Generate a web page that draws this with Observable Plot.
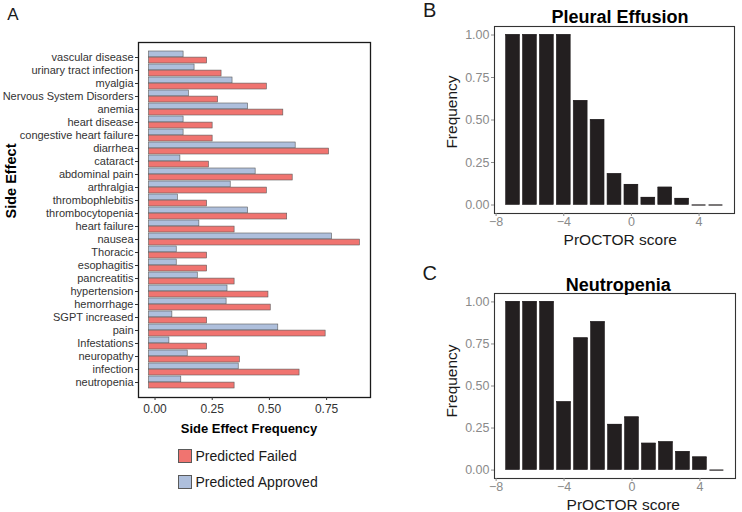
<!DOCTYPE html>
<html><head><meta charset="utf-8">
<script src="https://cdn.jsdelivr.net/npm/d3@7"></script>
<script src="https://cdn.jsdelivr.net/npm/@observablehq/plot@0.6"></script>
<style>
body{margin:0;background:#fff;font-family:"Liberation Sans",Arial,Helvetica,sans-serif;}
#root{position:relative;width:742px;height:512px;overflow:hidden;background:#fff;}
.abs{position:absolute;white-space:nowrap;line-height:1;}
.panel{position:absolute;}
.panel svg{display:block;}
</style></head><body><div id="root"></div>
<script>
// ---------- DATA ----------
const sideEffects = ["vascular disease","urinary tract infection","myalgia","Nervous System Disorders","anemia","heart disease","congestive heart failure","diarrhea","cataract","abdominal pain","arthralgia","thrombophlebitis","thrombocytopenia","heart failure","nausea","Thoracic","esophagitis","pancreatitis","hypertension","hemorrhage","SGPT increased","pain","Infestations","neuropathy","infection","neutropenia"];
const approvedFreq = [0.151,0.199,0.365,0.174,0.433,0.151,0.151,0.641,0.137,0.466,0.357,0.126,0.433,0.220,0.800,0.121,0.121,0.213,0.343,0.339,0.102,0.565,0.089,0.169,0.392,0.141];
const failedFreq   = [0.254,0.317,0.515,0.302,0.587,0.278,0.278,0.787,0.262,0.628,0.515,0.254,0.604,0.374,0.922,0.254,0.254,0.374,0.522,0.532,0.254,0.772,0.254,0.397,0.658,0.374];
const freqTicksA = [0, 0.25, 0.5, 0.75];

const scores = [-7,-6,-5,-4,-3,-2,-1,0,1,2,3,4,5];
const pleuralFreq     = [1,1,1,1,0.612,0.500,0.182,0.119,0.043,0.103,0.037,0,0];
const neutropeniaFreq = [1,1,1,0.404,0.784,0.880,0.270,0.314,0.158,0.166,0.108,0.076,0];
const freqTicks = [0, 0.25, 0.5, 0.75, 1];
const scoreTicks = [-8, -4, 0, 4];

const seriesNames = ["Predicted Failed", "Predicted Approved"];
const seriesColors = ["#F07470", "#AEBFDC"];

// ---------- LAYOUT ----------
const FONT = "'Liberation Sans', Arial, Helvetica, sans-serif";
const root = document.getElementById("root");
function place(node, left, top) {
  const d = document.createElement("div");
  d.className = "panel"; d.style.left = left + "px"; d.style.top = top + "px";
  d.appendChild(node); root.appendChild(d);
}
function label(text, cx, cy, o = {}) {
  const d = document.createElement("div");
  d.className = "abs";
  d.textContent = text;
  d.style.left = cx + "px"; d.style.top = cy + "px";
  d.style.fontSize = (o.size || 14) + "px";
  d.style.fontWeight = o.weight || "normal";
  d.style.color = o.color || "#1a1a1a";
  d.style.transform = "translate(-50%,-50%)" + (o.rotate ? " rotate(-90deg)" : "");
  root.appendChild(d);
}

// ---------- PANEL A ----------
const rowsA = sideEffects.map((s, i) => ({effect: s, approved: approvedFreq[i], failed: failedFreq[i]}));
const AH = 420, AmT = 42, AmB = 23, padIn = 0.1, padOut = 0.15;
const stepA = (AH - AmT - AmB) / (sideEffects.length - padIn + 2 * padOut);
const halfA = stepA * (1 - padIn) / 2;
const xMaxA = d3.max(failedFreq.concat(approvedFreq));
const plotA = Plot.plot({
  width: 380, height: AH, marginTop: AmT, marginBottom: AmB, marginLeft: 138, marginRight: 10,
  style: {fontFamily: FONT, fontSize: "11px", background: "transparent", color: "#333"},
  x: {domain: [-0.05 * xMaxA, 1.05 * xMaxA]},
  y: {type: "band", domain: sideEffects, paddingInner: padIn, paddingOuter: padOut, align: 0.5},
  marks: [
    Plot.barX(rowsA, {y: "effect", x: "approved", fill: seriesColors[1], stroke: "#5a5a5a", strokeWidth: 0.6, insetBottom: halfA}),
    Plot.barX(rowsA, {y: "effect", x: "failed", fill: seriesColors[0], stroke: "#5a5a5a", strokeWidth: 0.6, insetTop: halfA}),
    Plot.frame({stroke: "#1a1a1a", strokeWidth: 1.3}),
    Plot.axisX({ticks: freqTicksA, tickFormat: d3.format(".2f"), tickSize: 3, tickPadding: 4, fontSize: 12, dx: 6, label: null, color: "#333"}),
    Plot.axisY({tickSize: 3, tickPadding: 2, fontSize: 11, label: null, color: "#333"})
  ]
});
place(plotA, 0, 0);

// ---------- PANELS B, C ----------
function histPanel(vals, H, mT, mB, mR) {
  const rows = scores.map((s, i) => ({score: s, freq: vals[i]}));
  return Plot.plot({
    width: 322, height: H, marginTop: mT, marginBottom: mB, marginLeft: 74, marginRight: mR,
    style: {fontFamily: FONT, fontSize: "12.5px", background: "transparent"},
    x: {domain: [-8.095, 6.095]},
    y: {domain: [-0.05, 1.05]},
    marks: [
      Plot.rectY(rows, {x1: d => d.score - 0.41, x2: d => d.score + 0.41, y1: 0, y2: "freq", fill: "#231f20", stroke: "#231f20", strokeWidth: 0.6}),
      Plot.ruleY(rows, {y: "freq", x1: d => d.score - 0.41, x2: d => d.score + 0.41, stroke: "#231f20", strokeWidth: 1.2}),
      Plot.frame({stroke: "#333", strokeWidth: 1.1}),
      Plot.axisX({ticks: scoreTicks, tickFormat: d3.format("d"), tickSize: 3, tickPadding: 1, fontSize: 12.5, label: null, color: "#8a8a8a"}),
      Plot.axisY({ticks: freqTicks, tickFormat: d3.format(".2f"), tickSize: 3, tickPadding: 2, fontSize: 12.5, label: null, color: "#8a8a8a"})
    ]
  });
}
place(histPanel(pleuralFreq, 235, 26, 22, 8), 420, 0);
place(histPanel(neutropeniaFreq, 232, 25, 22, 7), 420, 268);

// ---------- TEXT ----------
label("A", 12.8, 13.8, {size: 17});
label("B", 429.7, 9.5, {size: 20});
label("C", 429.8, 272.5, {size: 20});
label("Pleural Effusion", 620, 16.5, {size: 18, weight: "bold", color: "#000"});
label("Neutropenia", 618.3, 284.5, {size: 18, weight: "bold", color: "#000"});
label("Frequency", 451.7, 112, {size: 15.5, rotate: true});
label("Frequency", 452, 381, {size: 15.5, rotate: true});
label("PrOCTOR score", 620.3, 240, {size: 15.5});
label("PrOCTOR score", 623.3, 505, {size: 15.5});
label("Side Effect", 10.5, 181, {size: 14.5, weight: "bold", color: "#000", rotate: true});
label("Side Effect Frequency", 249, 428, {size: 13, weight: "bold", color: "#000"});

// legend
const legY = [456.3, 482];
seriesNames.forEach((name, i) => {
  const sw = document.createElement("div");
  sw.className = "abs";
  Object.assign(sw.style, {left: "178.3px", top: (legY[i] - 7) + "px", width: "13.5px", height: "13.5px",
    background: seriesColors[i], border: "0.6px solid #5a5a5a", boxSizing: "border-box"});
  root.appendChild(sw);
  const t = document.createElement("div");
  t.className = "abs";
  t.textContent = name;
  Object.assign(t.style, {left: "195.5px", top: legY[i] + "px", fontSize: "14px", color: "#1a1a1a", transform: "translateY(-50%)"});
  root.appendChild(t);
});
</script></body></html>
